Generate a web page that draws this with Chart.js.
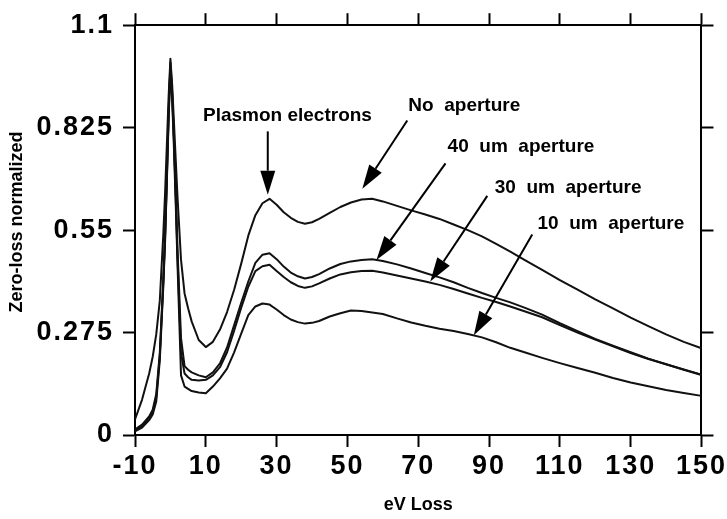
<!DOCTYPE html>
<html>
<head>
<meta charset="utf-8">
<title>Zero-loss normalized spectra</title>
<script src="https://cdn.jsdelivr.net/npm/chart.js@4.4.1/dist/chart.umd.min.js"></script>
<style>
  html, body { margin: 0; padding: 0; background: #fff; }
  #obal { width: 727px; height: 519px; }
</style>
</head>
<body>
<div id="obal"><canvas id="graf" width="727" height="519"></canvas></div>
<script>
// Energia straty (eV) - spoločná mriežka pre všetky krivky
const eV = [-10, -8, -6, -5, -4, -3, -2, -1.5, -1, -0.5, 0, 0.5, 1, 1.5, 2, 3, 4, 5, 6, 8, 10,
    12, 14, 16, 18, 20, 22, 24, 26, 28, 30, 32, 34, 36, 38, 40, 42, 45, 48, 51, 54, 57, 60,
    64, 68, 72, 76, 80, 84, 88, 92, 96, 100, 105, 110, 115, 120, 125, 130, 135, 140, 145, 150]

// Intenzita normovaná na zero-loss pík
const bezClony = [0.042, 0.095, 0.165, 0.21, 0.27, 0.36, 0.54, 0.65, 0.78, 0.91, 1.01, 0.94, 0.84, 0.74, 0.64,
    0.47, 0.38, 0.34, 0.305, 0.255, 0.236, 0.25, 0.283, 0.33, 0.39, 0.46, 0.535, 0.59, 0.622, 0.634,
    0.618, 0.598, 0.583, 0.572, 0.567, 0.571, 0.58, 0.596, 0.612, 0.624, 0.632, 0.634, 0.627,
    0.615, 0.603, 0.592, 0.58, 0.565, 0.55, 0.533, 0.513, 0.492, 0.47, 0.443, 0.416, 0.39, 0.364,
    0.34, 0.315, 0.292, 0.27, 0.25, 0.233]
const clona40 = [0.015, 0.028, 0.05, 0.068, 0.11, 0.22, 0.42, 0.54, 0.7, 0.87, 1.0, 0.92, 0.8, 0.66, 0.5,
    0.26, 0.185, 0.175, 0.168, 0.16, 0.155, 0.168, 0.192, 0.235, 0.295, 0.355, 0.412, 0.462, 0.484, 0.488,
    0.472, 0.452, 0.436, 0.426, 0.42, 0.424, 0.432, 0.447, 0.459, 0.466, 0.47, 0.472, 0.467,
    0.458, 0.447, 0.435, 0.423, 0.41, 0.395, 0.381, 0.368, 0.356, 0.342, 0.323, 0.3, 0.279, 0.258,
    0.24, 0.222, 0.205, 0.19, 0.176, 0.162]
const clona30 = [0.013, 0.025, 0.046, 0.063, 0.1, 0.21, 0.41, 0.53, 0.69, 0.86, 0.99, 0.91, 0.79, 0.64, 0.48,
    0.22, 0.165, 0.155, 0.148, 0.146, 0.148, 0.16, 0.182, 0.222, 0.28, 0.342, 0.398, 0.44, 0.453, 0.457,
    0.44, 0.424, 0.41, 0.4, 0.395, 0.399, 0.407, 0.42, 0.431, 0.437, 0.44, 0.441, 0.436,
    0.428, 0.42, 0.412, 0.403, 0.392, 0.38, 0.368, 0.357, 0.345, 0.332, 0.316, 0.295, 0.275, 0.256,
    0.238, 0.22, 0.204, 0.19, 0.175, 0.161]
const clona10 = [0.01, 0.02, 0.04, 0.055, 0.09, 0.2, 0.4, 0.52, 0.68, 0.85, 0.98, 0.9, 0.77, 0.62, 0.46,
    0.16, 0.13, 0.124, 0.118, 0.114, 0.112, 0.13, 0.152, 0.178, 0.222, 0.272, 0.322, 0.345, 0.353, 0.35,
    0.337, 0.322, 0.31, 0.303, 0.299, 0.301, 0.306, 0.318, 0.327, 0.334, 0.333, 0.329, 0.325,
    0.313, 0.302, 0.293, 0.285, 0.279, 0.271, 0.262, 0.249, 0.234, 0.222, 0.207, 0.193, 0.18, 0.167,
    0.153, 0.141, 0.131, 0.121, 0.113, 0.105]

// Značky osí
const xZnacky = [-10, 10, 30, 50, 70, 90, 110, 130, 150]
const yZnacky = [0, 0.275, 0.55, 0.825, 1.1]

// Popisy kriviek (ľavý okraj textu v jednotkách grafu)
const popisy = [
    { text: 'Plasmon electrons', x: 9.2, y: 0.858 },
    { text: 'No  aperture', x: 67.2, y: 0.885 },
    { text: '40  um  aperture', x: 78.3, y: 0.775 },
    { text: '30  um  aperture', x: 91.6, y: 0.664 },
    { text: '10  um  aperture', x: 103.7, y: 0.568 }
]

// Šípky: odkiaľ -> kam (hrot)
const sipky = [
    { x1: 27.5, y1: 0.815, x2: 27.5, y2: 0.645 },
    { x1: 66.9, y1: 0.844, x2: 54.2, y2: 0.661 },
    { x1: 77.7, y1: 0.729, x2: 58.2, y2: 0.47 },
    { x1: 89.5, y1: 0.642, x2: 73.4, y2: 0.412 },
    { x1: 102.2, y1: 0.538, x2: 85.7, y2: 0.268 }
]

const PISMO = "'Liberation Sans', Arial, Helvetica, sans-serif"
Chart.defaults.font.family = PISMO
Chart.defaults.color = '#000'

function krivka(nazov, hodnoty) {
    return {
        label: nazov,
        data: eV.map((x, i) => ({ x, y: hodnoty[i] })),
        borderColor: '#111',
        borderWidth: 2,
        borderJoinStyle: 'round',
        pointRadius: 0,
        tension: 0,
        fill: false
    }
}

const mriezka = { drawOnChartArea: false, drawTicks: true, tickLength: 12, tickWidth: 2, tickColor: '#000' }
const okraj = { display: true, color: '#000', width: 2 }
const znackyX = s => { s.ticks = xZnacky.map(v => ({ value: v })) }
const znackyY = s => { s.ticks = yZnacky.map(v => ({ value: v })) }

// Šípky, popisy a názvy osí
const popiskyPlugin = {
    id: 'popisky',
    beforeDraw(chart) { chart.ctx.letterSpacing = '2px' },
    beforeDatasetsDraw(chart) { chart.ctx.letterSpacing = '0px' },
    afterDatasetsDraw(chart) {
        const { ctx, chartArea, scales: { x, y } } = chart
        ctx.save()
        ctx.fillStyle = '#000'
        ctx.strokeStyle = '#000'
        ctx.lineWidth = 2

        sipky.forEach(s => {
            const ax = x.getPixelForValue(s.x1), ay = y.getPixelForValue(s.y1)
            const bx = x.getPixelForValue(s.x2), by = y.getPixelForValue(s.y2)
            const uhol = Math.atan2(by - ay, bx - ax)
            const dlzka = 24, sirka = 7.5
            const zx = bx - dlzka * Math.cos(uhol), zy = by - dlzka * Math.sin(uhol)
            ctx.beginPath()
            ctx.moveTo(ax, ay)
            ctx.lineTo(zx, zy)
            ctx.stroke()
            ctx.beginPath()
            ctx.moveTo(bx, by)
            ctx.lineTo(zx + sirka * Math.sin(uhol), zy - sirka * Math.cos(uhol))
            ctx.lineTo(zx - sirka * Math.sin(uhol), zy + sirka * Math.cos(uhol))
            ctx.closePath()
            ctx.fill()
        })

        ctx.font = `bold 19px ${PISMO}`
        ctx.textAlign = 'left'
        ctx.textBaseline = 'middle'
        popisy.forEach(p => ctx.fillText(p.text, x.getPixelForValue(p.x), y.getPixelForValue(p.y)))

        ctx.font = `bold 18px ${PISMO}`
        ctx.textAlign = 'center'
        ctx.fillText('eV Loss', (chartArea.left + chartArea.right) / 2, 505)
        ctx.translate(17, 222)
        ctx.rotate(-Math.PI / 2)
        ctx.fillText('Zero-loss normalized', 0, 0)
        ctx.restore()
    }
}

new Chart(document.getElementById('graf').getContext('2d'), {
    type: 'line',
    data: {
        datasets: [
            krivka('No aperture', bezClony),
            krivka('40 um aperture', clona40),
            krivka('30 um aperture', clona30),
            krivka('10 um aperture', clona10)
        ]
    },
    options: {
        responsive: false,
        animation: false,
        layout: { padding: 0 },
        plugins: { legend: { display: false }, tooltip: { enabled: false } },
        scales: {
            x: {
                type: 'linear', position: 'bottom', min: -10, max: 150,
                afterBuildTicks: znackyX,
                afterFit: s => { s.height = 84 },
                grid: mriezka, border: okraj,
                ticks: { font: { size: 27, weight: 'bold' }, padding: 3, maxRotation: 0, autoSkip: false, callback: v => String(v) }
            },
            x2: {
                type: 'linear', position: 'top', min: -10, max: 150,
                afterBuildTicks: znackyX,
                afterFit: s => { s.height = 16 },
                grid: mriezka, border: okraj,
                ticks: { display: false }
            },
            y: {
                type: 'linear', position: 'left', min: 0, max: 1.1,
                afterBuildTicks: znackyY,
                afterFit: s => { s.width = 135 },
                grid: mriezka, border: okraj,
                ticks: { font: { size: 27, weight: 'bold' }, padding: 9, autoSkip: false, callback: v => String(v) }
            },
            y2: {
                type: 'linear', position: 'right', min: 0, max: 1.1,
                afterBuildTicks: znackyY,
                afterFit: s => { s.width = 25 },
                grid: mriezka, border: okraj,
                ticks: { display: false }
            }
        }
    },
    plugins: [popiskyPlugin]
})
</script>
</body>
</html>
